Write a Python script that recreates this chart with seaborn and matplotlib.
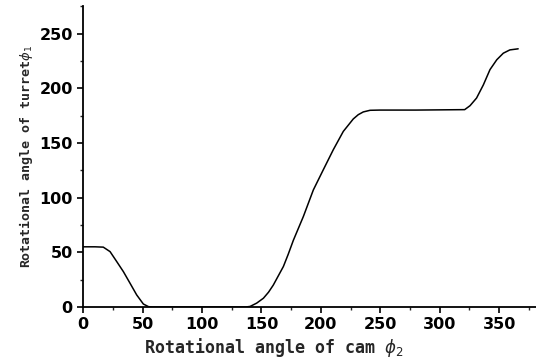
import matplotlib.pyplot as plt
import matplotlib.ticker as mticker
import pandas as pd
import seaborn as sns

# ── Data ──────────────────────────────────────────────────────────────────────
cam_angle = [0, 10, 17, 22.7, 28.3, 33.9, 39.5, 45.1, 50.7, 55, 58,
             100, 137, 140.5, 146, 151.7, 156, 160, 164, 168.5, 172.5, 176.9,
             185.3, 193.7, 202.1, 210.5, 218.9, 227.3, 231.5, 235.7, 241.4,
             249.8, 280, 321, 325.5, 331, 336.7, 342.3, 348, 353.5, 359, 366]
turret_angle = [55, 55, 54.7, 50.6, 41.5, 32.3, 21.7, 11, 2.7, 0.3, 0,
                0, 0, 0.5, 3.5, 8, 13.5, 20, 28, 37, 48, 61,
                82.7, 107, 125.5, 143.8, 160.5, 171.9, 175.8, 178.3, 179.8,
                180, 180, 180.4, 184, 191, 203, 217, 226, 232, 235, 236]

X_TICKS = [0, 50, 100, 150, 200, 250, 300, 350]
Y_TICKS = [0, 50, 100, 150, 200, 250]

sns.set_style("ticks")
plt.rcParams["font.family"] = ["DejaVu Sans", "DejaVu Sans Mono"]

df = pd.DataFrame({"cam": cam_angle, "turret": turret_angle})

fig = plt.figure(figsize=(5.36, 3.62), dpi=100)
ax = fig.add_axes([0.155, 0.152, 0.845, 0.831])

sns.lineplot(data=df, x="cam", y="turret", color="black", linewidth=1.1,
             estimator=None, sort=False, ax=ax)

ax.set_xlim(0, 381)
ax.set_ylim(0, 275)
ax.set_xticks(X_TICKS)
ax.set_yticks(Y_TICKS)
ax.xaxis.set_minor_locator(mticker.MultipleLocator(25))
ax.yaxis.set_minor_locator(mticker.MultipleLocator(25))
ax.tick_params(axis="both", which="major", direction="out", length=4, width=1.2,
               labelsize=11.5, colors="black")
ax.tick_params(axis="both", which="minor", direction="out", length=2.5, width=1.0)
for lbl in ax.get_xticklabels() + ax.get_yticklabels():
    lbl.set_fontweight("bold")

sns.despine(ax=ax)
for side in ("left", "bottom"):
    ax.spines[side].set_linewidth(1.3)
    ax.spines[side].set_color("black")

ax.set_xlabel(r"Rotational angle of cam $\phi_2$", family="DejaVu Sans Mono",
              fontsize=12, fontweight="bold")
ax.xaxis.set_label_coords(0.42, -0.095)
ax.set_ylabel(r"Rotational angle of turret$\phi_1$", family="DejaVu Sans Mono",
              fontsize=9.5, fontweight="bold", labelpad=3)

fig.savefig("out.png", dpi=100)
